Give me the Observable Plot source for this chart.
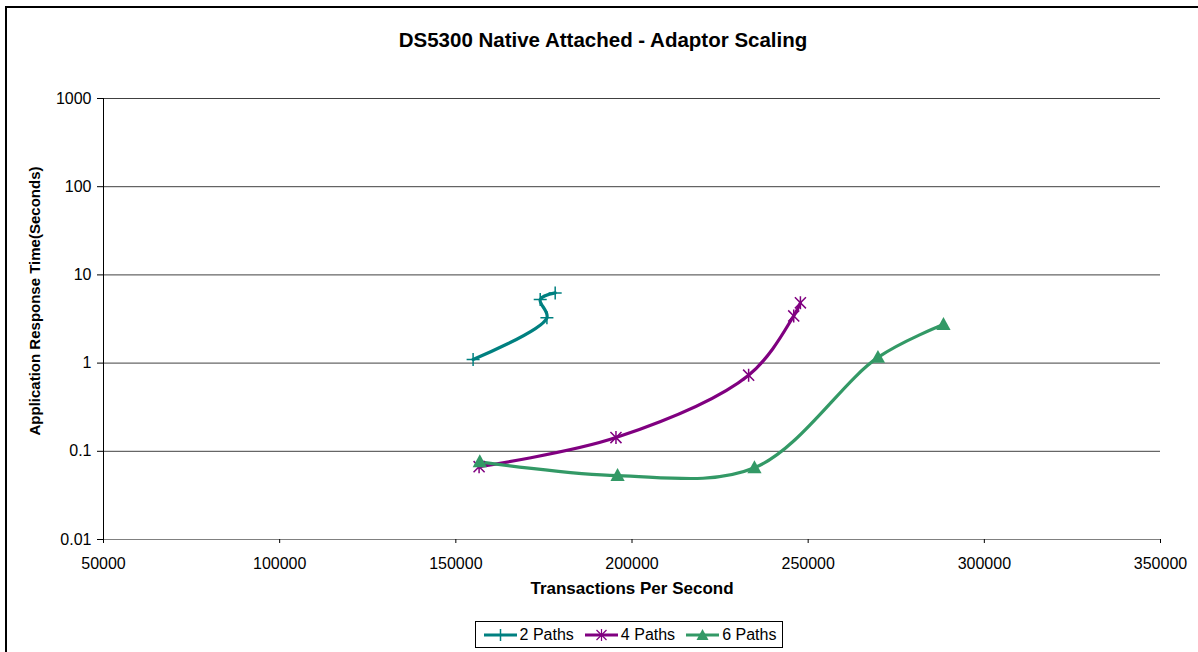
<!DOCTYPE html>
<html>
<head>
<meta charset="utf-8">
<script src="https://cdn.jsdelivr.net/npm/d3@7"></script>
<script src="https://cdn.jsdelivr.net/npm/@observablehq/plot@0.6"></script>
<style>
  html, body { margin: 0; padding: 0; background: #fff; }
  body { width: 1198px; height: 652px; overflow: hidden; position: relative; font-family: "Liberation Sans", Arial, sans-serif; }
  #frame { position: absolute; left: 5px; top: 6px; width: 1400px; height: 900px; border: 2px solid #000; pointer-events: none; }
  #title { height: 70px; box-sizing: border-box; padding-top: 28px; padding-left: 8px; text-align: center; font-weight: bold; font-size: 20.5px; line-height: 24px; color: #000; }
  #legendWrap { height: 40px; box-sizing: border-box; padding-top: 9px; padding-left: 60px; text-align: center; }
  #legend { display: inline-flex; align-items: center; border: 1px solid #000; padding: 0 6px 0 8px; height: 25px; font-size: 16px; color: #000; }
  .item { display: inline-flex; align-items: center; margin-right: 11px; }
  .item:last-child { margin-right: 0; }
  .item svg { margin-right: 3px; }
</style>
</head>
<body>
<div id="frame"></div>
<div id="title">DS5300 Native Attached - Adaptor Scaling</div>
<div id="chart"></div>
<div id="legendWrap"><div id="legend"></div></div>
<script>
// ---- data ----
const seriesNames = ["2 Paths", "4 Paths", "6 Paths"];
const seriesColors = ["#008080", "#800080", "#339966"];

const tps2 = [154900, 175850, 173950, 178200];
const rt2  = [1.10, 3.26, 5.26, 6.25];

const tps4 = [156600, 195450, 233100, 245900, 247800];
const rt4  = [0.067, 0.143, 0.73, 3.43, 4.82];

const tps6 = [156800, 195900, 234750, 269800, 288400];
const rt6  = [0.076, 0.053, 0.065, 1.16, 2.74];

const xTicks = [50000, 100000, 150000, 200000, 250000, 300000, 350000];
const yTicks = [0.01, 0.1, 1, 10, 100, 1000];

const xLabel = "Transactions Per Second";
const yLabel = "Application Response Time(Seconds)";

// ---- build table ----
const toRows = (name, xs, ys) => xs.map((x, i) => ({series: name, x, y: ys[i]}));
const rows = [
  ...toRows(seriesNames[0], tps2, rt2),
  ...toRows(seriesNames[1], tps4, rt4),
  ...toRows(seriesNames[2], tps6, rt6)
];

// ---- custom symbols (Excel-like markers) ----
const symPlus = {draw(c, size) { const r = Math.sqrt(size / Math.PI); c.moveTo(-r, 0); c.lineTo(r, 0); c.moveTo(0, -r); c.lineTo(0, r); }};
const symStar = {draw(c, size) { const r = Math.sqrt(size / Math.PI); const a = r * 0.85; c.moveTo(-a, -a); c.lineTo(a, a); c.moveTo(-a, a); c.lineTo(a, -a); c.moveTo(0, -r); c.lineTo(0, r); }};
const symTri  = {draw(c, size) { const r = Math.sqrt(size / Math.PI); c.moveTo(0, -r); c.lineTo(r * 0.95, r * 0.72); c.lineTo(-r * 0.95, r * 0.72); c.closePath(); }};

const chart = Plot.plot({
  width: 1198,
  height: 542,
  marginLeft: 103,
  marginRight: 38,
  marginTop: 28,
  marginBottom: 73,
  style: {fontFamily: '"Liberation Sans", Arial, sans-serif', fontSize: "16px", color: "#000", background: "transparent"},
  x: {domain: [xTicks[0], xTicks[xTicks.length - 1]]},
  y: {type: "log", domain: [yTicks[0], yTicks[yTicks.length - 1]]},
  color: {domain: seriesNames, range: seriesColors},
  marks: [
    Plot.ruleY(yTicks.slice(1), {stroke: "#404040", strokeWidth: 1}),
    Plot.ruleY([yTicks[0]], {stroke: "#808080", strokeWidth: 1}),
    Plot.ruleX([xTicks[0]], {stroke: "#000", strokeWidth: 1}),
    Plot.axisY({ticks: yTicks, tickFormat: d => String(d), tickSize: 6, tickPadding: 6, label: null, stroke: "#000", fontSize: 16}),
    Plot.axisX({ticks: xTicks, tickFormat: d => String(d), tickSize: 4, tickPadding: 14, label: null, stroke: "#000", fontSize: 16}),
    Plot.line(rows, {x: "x", y: "y", z: "series", stroke: "series", strokeWidth: 3.2, curve: "catmull-rom"}),
    Plot.dot(rows.filter(d => d.series === seriesNames[0]), {x: "x", y: "y", symbol: symPlus, r: 6.5, fill: "none", stroke: seriesColors[0], strokeWidth: 1.5}),
    Plot.dot(rows.filter(d => d.series === seriesNames[1]), {x: "x", y: "y", symbol: symStar, r: 6.5, fill: "none", stroke: seriesColors[1], strokeWidth: 1.5}),
    Plot.dot(rows.filter(d => d.series === seriesNames[2]), {x: "x", y: "y", symbol: symTri, r: 7.5, fill: seriesColors[2], stroke: "none"}),
    Plot.text([yLabel], {text: d => d, frameAnchor: "left", textAnchor: "middle", lineAnchor: "middle", dx: -68, dy: -18, rotate: -90, fontWeight: "bold", fontSize: 15, fill: "#000"}),
    Plot.text([xLabel], {text: d => d, frameAnchor: "bottom", dy: 54, fontWeight: "bold", fontSize: 17, fill: "#000"})
  ]
});
document.getElementById("chart").appendChild(chart);

// ---- legend ----
const legend = document.getElementById("legend");
const markerSvg = [
  c => `<line x1="16.5" y1="1" x2="16.5" y2="13" stroke="${c}" stroke-width="1.5"/>`,
  c => `<line x1="11.5" y1="2" x2="21.5" y2="12" stroke="${c}" stroke-width="1.2"/><line x1="11.5" y1="12" x2="21.5" y2="2" stroke="${c}" stroke-width="1.2"/><line x1="16.5" y1="1" x2="16.5" y2="13" stroke="${c}" stroke-width="1.2"/>`,
  c => `<path d="M16.5,1 L22.5,12 L10.5,12 Z" fill="${c}"/>`
];
seriesNames.forEach((name, i) => {
  const c = seriesColors[i];
  const it = document.createElement("span");
  it.className = "item";
  it.innerHTML = `<svg width="33" height="14" viewBox="0 0 33 14"><line x1="0" y1="7" x2="33" y2="7" stroke="${c}" stroke-width="3"/>${markerSvg[i](c)}</svg><span>${name}</span>`;
  legend.appendChild(it);
});
</script>
</body>
</html>
